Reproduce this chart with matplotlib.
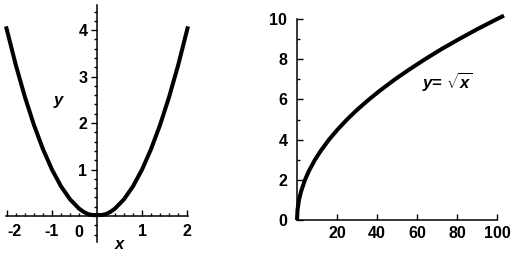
import matplotlib.pyplot as plt
from matplotlib.ticker import MultipleLocator

plt.rcParams['font.family'] = ['Liberation Sans', 'DejaVu Sans']
plt.rcParams['font.weight'] = 'bold'
plt.rcParams['axes.unicode_minus'] = False
plt.rcParams['mathtext.fontset'] = 'custom'
plt.rcParams['mathtext.it'] = 'Liberation Sans:italic:bold'
plt.rcParams['mathtext.rm'] = 'Liberation Sans:bold'

# y = x^2
parab_x = [-2.02, -1.8, -1.6, -1.4, -1.2, -1.0, -0.8, -0.6, -0.4, -0.3, -0.2, -0.1,
           0.0, 0.1, 0.2, 0.3, 0.4, 0.6, 0.8, 1.0, 1.2, 1.4, 1.6, 1.8, 2.02]
parab_y = [4.08, 3.24, 2.56, 1.96, 1.44, 1.0, 0.64, 0.36, 0.16, 0.09, 0.04, 0.02,
           0.02, 0.02, 0.04, 0.09, 0.16, 0.36, 0.64, 1.0, 1.44, 1.96, 2.56, 3.24, 4.08]

# y = sqrt(x)
root_x = [0, 0.25, 1, 2, 4, 6, 9, 12, 16, 20, 25, 30, 36, 42, 49, 56, 64, 72, 81, 90, 100, 103.5]
root_y = [0, 0.5, 1.0, 1.41, 2.0, 2.45, 3.0, 3.46, 4.0, 4.47, 5.0, 5.48, 6.0, 6.48, 7.0,
          7.48, 8.0, 8.49, 9.0, 9.49, 10.0, 10.17]

left_ticks = [-2, -1, 1, 2]
left_yticks = [1, 2, 3, 4]
right_xticks = [20, 40, 60, 80, 100]
right_yticks = [0, 2, 4, 6, 8, 10]

W, H = 514, 256
fig = plt.figure(figsize=(W / 100, H / 100), dpi=100)

def box(l, r, t, b):
    return [l / W, 1 - b / H, (r - l) / W, (b - t) / H]

FS = 11.5

# left panel
ax1 = fig.add_axes(box(6, 188, 5, 242))
ax1.plot(parab_x, parab_y, color='black', lw=2.9, solid_capstyle='butt', clip_on=False)
ax1.set_xlim(-2.02, 2.02)
ax1.set_ylim(-0.56, 4.54)
for s in ['top', 'right']:
    ax1.spines[s].set_visible(False)
ax1.spines['left'].set_position(('data', 0))
ax1.spines['bottom'].set_position(('data', 0))
for s in ['left', 'bottom']:
    ax1.spines[s].set_linewidth(1.1)
ax1.set_xticks(left_ticks)
ax1.set_yticks(left_yticks)
ax1.xaxis.set_minor_locator(MultipleLocator(0.2))
ax1.yaxis.set_minor_locator(MultipleLocator(0.2))
ax1.tick_params(axis='x', which='both', direction='in', pad=6, labelsize=FS, width=1.0)
ax1.tick_params(axis='y', which='both', direction='out', pad=3, labelsize=FS, width=1.0)
ax1.tick_params(which='major', length=4)
ax1.tick_params(which='minor', length=2.5)
ax1.xaxis.get_major_ticks()[0].label1.set_horizontalalignment('left')
ax1.text(-0.4, -0.2, '0', ha='center', va='top', fontsize=FS)
ax1.text(-0.85, 2.48, 'y', style='italic', fontsize=12, ha='center', va='center')
ax1.text(0.5, -0.62, 'x', style='italic', fontsize=12, ha='center', va='center')

# right panel
ax2 = fig.add_axes(box(297, 505, 11, 220))
ax2.plot(root_x, root_y, color='black', lw=2.9, solid_capstyle='butt', clip_on=False)
ax2.set_xlim(0, 104)
ax2.set_ylim(0, 10.4)
for s in ['top', 'right']:
    ax2.spines[s].set_visible(False)
for s in ['left', 'bottom']:
    ax2.spines[s].set_linewidth(1.1)
ax2.spines['bottom'].set_bounds(0, 100)
ax2.spines['left'].set_bounds(0, 10)
ax2.set_xticks(right_xticks)
ax2.set_yticks(right_yticks)
ax2.yaxis.set_minor_locator(MultipleLocator(1))
ax2.tick_params(which='both', direction='in', labelsize=FS, width=1.0)
ax2.tick_params(which='major', length=4)
ax2.tick_params(which='minor', length=2)
ax2.tick_params(axis='x', pad=4)
ax2.tick_params(axis='y', pad=7)
ax2.text(75, 6.9, r'$y$= $\sqrt{x}$', fontsize=12, ha='center', va='center')

fig.savefig('out.png', dpi=100)
